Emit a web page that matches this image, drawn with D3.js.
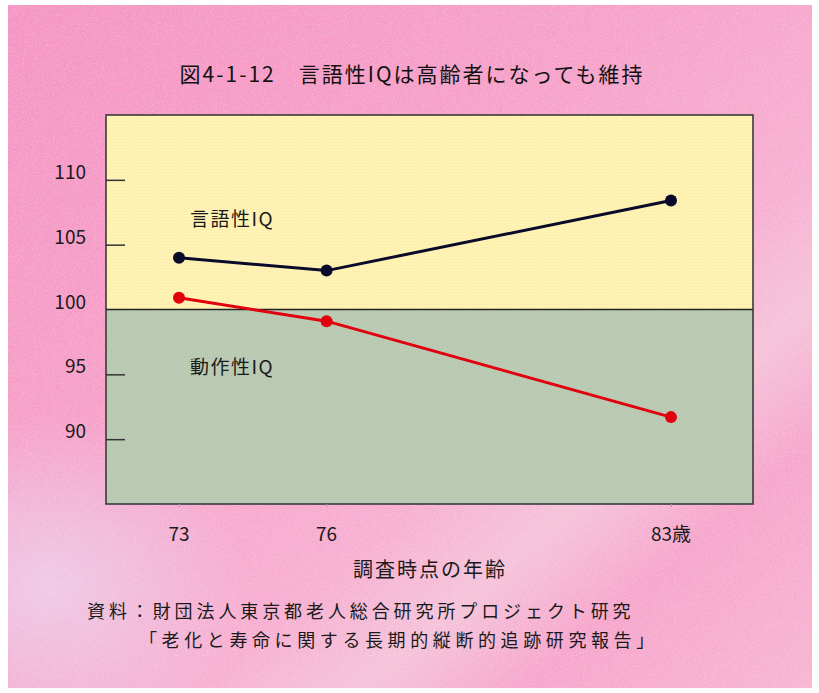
<!DOCTYPE html>
<html>
<head>
<meta charset="utf-8">
<script src="https://cdn.jsdelivr.net/npm/d3@7/dist/d3.min.js"></script>
<style>
  body { margin: 0; background: #fff; }
  text { font-family: "Noto Sans CJK JP", "Noto Sans", sans-serif; }
</style>
</head>
<body>
<div id="chart"></div>
<script>
// data
var ages = [73, 76, 83];
var verbal = [104.0, 103.0, 108.4];      // 言語性IQ
var performance = [100.9, 99.1, 91.7];   // 動作性IQ
var yTicks = [90, 95, 100, 105, 110];
var ageLabels = ["73", "76", "83歳"];

var width = 819, height = 693;
var plot = {left: 106, right: 753, top: 115, bottom: 504};

var svg = d3.select("#chart")
    .append("svg")
    .attr("width", width)
    .attr("height", height);

var defs = svg.append("defs");

// pink background gradient
var bg = defs.append("linearGradient")
    .attr("id", "bg")
    .attr("x1", "0%").attr("y1", "0%")
    .attr("x2", "100%").attr("y2", "100%");
bg.append("stop").attr("offset", "0%").attr("stop-color", "#f592c2");
bg.append("stop").attr("offset", "40%").attr("stop-color", "#f6a0c9");
bg.append("stop").attr("offset", "62%").attr("stop-color", "#f7aed1");
bg.append("stop").attr("offset", "72%").attr("stop-color", "#f5c2da");
bg.append("stop").attr("offset", "82%").attr("stop-color", "#f6a4cb");
bg.append("stop").attr("offset", "100%").attr("stop-color", "#f7b4d2");

var bg2 = defs.append("radialGradient")
    .attr("id", "bg2")
    .attr("cx", "5%").attr("cy", "85%").attr("r", "25%");
bg2.append("stop").attr("offset", "0%").attr("stop-color", "#ecd0ea").attr("stop-opacity", 0.85);
bg2.append("stop").attr("offset", "100%").attr("stop-color", "#ecd0ea").attr("stop-opacity", 0);

// speckle texture
var speckle = defs.append("filter").attr("id", "speckle")
    .attr("x", 0).attr("y", 0).attr("width", "100%").attr("height", "100%");
speckle.append("feTurbulence")
    .attr("type", "fractalNoise")
    .attr("baseFrequency", 1.1)
    .attr("numOctaves", 1)
    .attr("seed", 3)
    .attr("result", "noise");
speckle.append("feColorMatrix")
    .attr("in", "noise")
    .attr("type", "matrix")
    .attr("values", "0 0 0 0 1  0 0 0 0 0.88  0 0 0 0 0.85  1.6 0 0 0 -0.65");

// dotted fill for lower band
var dots = defs.append("pattern")
    .attr("id", "dots")
    .attr("width", 4).attr("height", 4)
    .attr("patternUnits", "userSpaceOnUse");
dots.append("rect").attr("width", 4).attr("height", 4).attr("fill", "#bccbb4");
dots.append("rect").attr("x", 1).attr("y", 1).attr("width", 1).attr("height", 1).attr("fill", "#d2a6cc");
dots.append("rect").attr("x", 3).attr("y", 3).attr("width", 1).attr("height", 1).attr("fill", "#c4b0cc");

var ydots = defs.append("pattern")
    .attr("id", "ydots")
    .attr("width", 3).attr("height", 3)
    .attr("patternUnits", "userSpaceOnUse");
ydots.append("rect").attr("width", 3).attr("height", 3).attr("fill", "#fff3b2");
ydots.append("rect").attr("x", 1).attr("y", 1).attr("width", 1).attr("height", 1).attr("fill", "#fbe4bc");

svg.append("rect")
    .attr("x", 8).attr("y", 5)
    .attr("width", 804).attr("height", 683)
    .attr("fill", "url(#bg)");
svg.append("rect")
    .attr("x", 8).attr("y", 5)
    .attr("width", 804).attr("height", 683)
    .attr("fill", "url(#bg2)");
svg.append("rect")
    .attr("x", 8).attr("y", 5)
    .attr("width", 804).attr("height", 683)
    .attr("filter", "url(#speckle)")
    .attr("opacity", 0.45);

// scales
var x = d3.scaleLinear().domain([73, 83]).range([179, 671]);
var y = d3.scaleLinear().domain([85, 115]).range([plot.bottom, plot.top]);

// bands
svg.append("rect")
    .attr("x", plot.left).attr("y", y(115))
    .attr("width", plot.right - plot.left)
    .attr("height", y(100) - y(115))
    .attr("fill", "url(#ydots)");
svg.append("rect")
    .attr("x", plot.left).attr("y", y(100))
    .attr("width", plot.right - plot.left)
    .attr("height", y(85) - y(100))
    .attr("fill", "url(#dots)");

// frame
svg.append("rect")
    .attr("x", plot.left).attr("y", plot.top)
    .attr("width", plot.right - plot.left)
    .attr("height", plot.bottom - plot.top)
    .attr("fill", "none")
    .attr("stroke", "#3a3a3a")
    .attr("stroke-width", 1.6);
svg.append("line")
    .attr("x1", plot.left).attr("x2", plot.right)
    .attr("y1", y(100)).attr("y2", y(100))
    .attr("stroke", "#222")
    .attr("stroke-width", 1.5);

// y axis: ticks inside
var yAxis = svg.append("g")
    .attr("transform", "translate(" + plot.left + ",0)")
    .call(d3.axisRight(y).tickValues(yTicks.filter(function(d){ return d !== 100; }))
        .tickSize(19).tickFormat(""));
yAxis.select(".domain").remove();
yAxis.selectAll("line").attr("stroke", "#333").attr("stroke-width", 1.5);

svg.selectAll(".ylab")
    .data(yTicks)
    .enter()
    .append("text")
    .attr("class", "ylab")
    .attr("x", 86)
    .attr("y", function(d){ return y(d) - 1; })
    .attr("text-anchor", "end")
    .attr("font-size", 19)
    .attr("fill", "#1a1a1a")
    .text(function(d){ return d; });

// x axis: faint ticks and labels
var xAxis = svg.append("g")
    .attr("transform", "translate(0," + plot.bottom + ")")
    .call(d3.axisBottom(x).tickValues(ages).tickSize(3).tickFormat(""));
xAxis.select(".domain").remove();
xAxis.selectAll("line").attr("stroke", "#9aa89a").attr("stroke-width", 1);

svg.selectAll(".xlab")
    .data(ages)
    .enter()
    .append("text")
    .attr("class", "xlab")
    .attr("x", function(d){ return x(d); })
    .attr("y", 541)
    .attr("text-anchor", "middle")
    .attr("font-size", 19)
    .attr("fill", "#1a1a1a")
    .text(function(d, i){ return ageLabels[i]; });

// lines
var line = d3.line()
    .x(function(d){ return x(d[0]); })
    .y(function(d){ return y(d[1]); });

var series = [
    {name: "言語性IQ", values: d3.zip(ages, verbal), color: "#0a0a2a", lx: 190, ly: 226},
    {name: "動作性IQ", values: d3.zip(ages, performance), color: "#e0000e", lx: 190, ly: 374}
];

series.forEach(function(s){
    svg.append("path")
        .datum(s.values)
        .attr("d", line)
        .attr("fill", "none")
        .attr("stroke", s.color)
        .attr("stroke-width", 3);
    svg.selectAll(null)
        .data(s.values)
        .enter()
        .append("circle")
        .attr("cx", function(d){ return x(d[0]); })
        .attr("cy", function(d){ return y(d[1]); })
        .attr("r", 6)
        .attr("fill", s.color);
    svg.append("text")
        .attr("x", s.lx).attr("y", s.ly)
        .attr("font-size", 19)
        .attr("fill", "#1a1a1a")
        .attr("letter-spacing", 1.5)
        .text(s.name);
});

// titles
svg.append("text")
    .attr("x", 412).attr("y", 82)
    .attr("text-anchor", "middle")
    .attr("font-size", 21)
    .attr("fill", "#111")
    .attr("letter-spacing", 2)
    .text("図4-1-12　言語性IQは高齢者になっても維持");

svg.append("text")
    .attr("x", 430).attr("y", 577)
    .attr("text-anchor", "middle")
    .attr("font-size", 20)
    .attr("fill", "#1a1a1a")
    .attr("letter-spacing", 2)
    .text("調査時点の年齢");

svg.append("text")
    .attr("x", 87).attr("y", 618)
    .attr("font-size", 18)
    .attr("fill", "#1a1a1a")
    .attr("letter-spacing", 3.9)
    .text("資料：財団法人東京都老人総合研究所プロジェクト研究");
svg.append("text")
    .attr("x", 139).attr("y", 647)
    .attr("font-size", 18)
    .attr("fill", "#1a1a1a")
    .attr("letter-spacing", 4.6)
    .text("「老化と寿命に関する長期的縦断的追跡研究報告」");
</script>
</body>
</html>
